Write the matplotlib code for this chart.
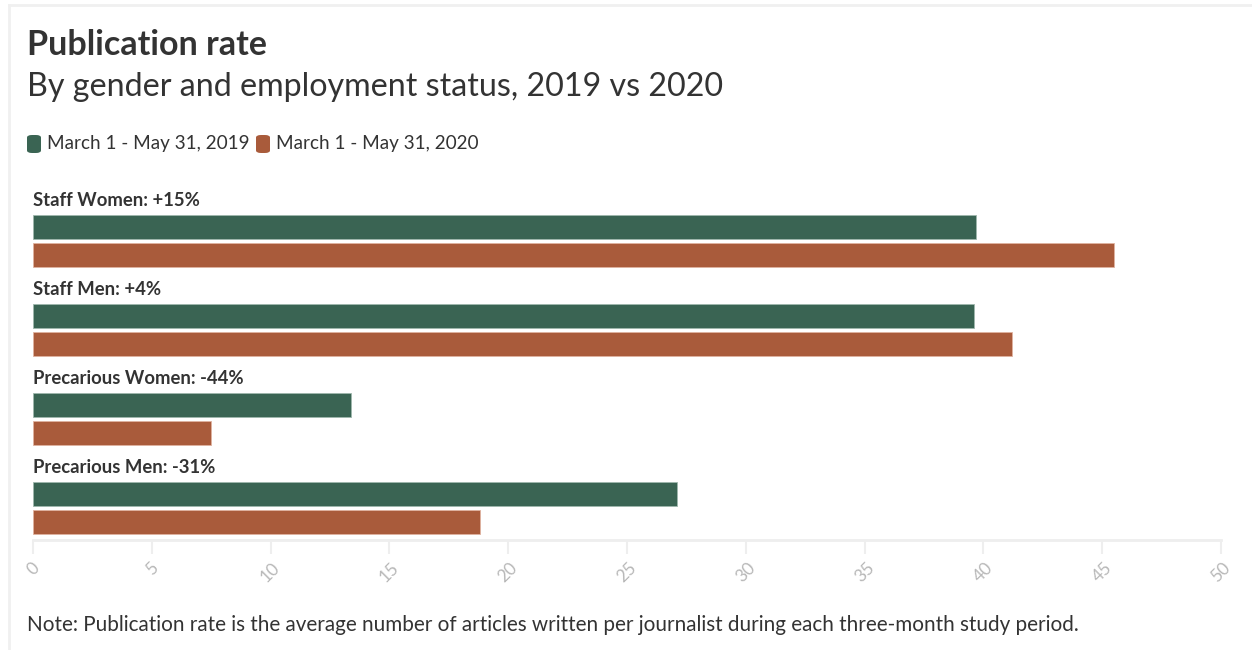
import matplotlib.pyplot as plt
import numpy as np
from matplotlib.patches import FancyBboxPatch

# Data
categories = ["Staff Women", "Staff Men", "Precarious Women", "Precarious Men"]
changes = ["+15%", "+4%", "-44%", "-31%"]
rate_2019 = [39.7, 39.6, 13.4, 27.1]
rate_2020 = [45.5, 41.2, 7.5, 18.8]
series_labels = ["March 1 - May 31, 2019", "March 1 - May 31, 2020"]
x_ticks = [0, 5, 10, 15, 20, 25, 30, 35, 40, 45, 50]

GREEN = "#3a6453"
ORANGE = "#a95b3b"
TEXT = "#333333"
GRID = "#eeeeee"

plt.rcParams['font.family'] = ['Lato', 'DejaVu Sans']

W, H = 1252, 650
fig = plt.figure(figsize=(W / 100, H / 100), dpi=100)

# card border (top and left faint lines)
fig.add_artist(plt.Line2D([9 / W, 1], [1 - 5 / H, 1 - 5 / H], color="#f0f0f0", lw=2))
fig.add_artist(plt.Line2D([9 / W, 9 / W], [0, 1 - 5 / H], color="#f0f0f0", lw=2))

# axes spans pixel x 33..1221, y 185..540
ax = fig.add_axes([33 / W, 110 / H, (1221 - 33) / W, 355 / H])

pos = np.arange(len(categories))
off = 0.157
bh = 0.27
ax.barh(pos - off, rate_2019, height=bh, color=GREEN, edgecolor="#9fb8ad", linewidth=0.6)
ax.barh(pos + off, rate_2020, height=bh, color=ORANGE, edgecolor="#e0b3a0", linewidth=0.6)

for i, (cat, ch) in enumerate(zip(categories, changes)):
    ax.text(0, i - 0.455, f"{cat}: {ch}", fontsize=13.3, fontweight="bold",
            color=TEXT, ha="left", va="center")

ax.set_xlim(0, 50)
ax.set_ylim(3.362, -0.626)
ax.set_yticks([])
ax.set_xticks(x_ticks)
ax.set_xticklabels([str(t) for t in x_ticks], rotation=45, ha="center",
                   va="top", color="#b8b8b8", fontsize=12.5)
ax.tick_params(axis="x", length=10, width=1.5, color=GRID, pad=4)
for s in ["top", "right", "left"]:
    ax.spines[s].set_visible(False)
ax.spines["bottom"].set_color(GRID)
ax.spines["bottom"].set_linewidth(2)

# title / subtitle
fig.text(27 / W, 1 - 45 / H, "Publication rate", fontsize=24.5, fontweight="bold",
         color=TEXT, ha="left", va="center")
fig.text(27 / W, 1 - 87 / H, "By gender and employment status, 2019 vs 2020",
         fontsize=23.2, color=TEXT, ha="left", va="center")

# legend
leg_y = 1 - 144 / H
for x0, col, lab in [(27, GREEN, series_labels[0]), (256, ORANGE, series_labels[1])]:
    fig.add_artist(FancyBboxPatch((x0 / W, leg_y - 9 / H), 14 / W, 18 / H,
                                  boxstyle="round,pad=0,rounding_size=0.004",
                                  transform=fig.transFigure, color=col, lw=0))
    fig.text((x0 + 20) / W, leg_y, lab, fontsize=13.6, color=TEXT, ha="left", va="center")

fig.text(27 / W, 1 - 625 / H,
         "Note: Publication rate is the average number of articles written per journalist during each three-month study period.",
         fontsize=14.9, color=TEXT, ha="left", va="center")

fig.savefig("out.png", dpi=100, facecolor="white")
